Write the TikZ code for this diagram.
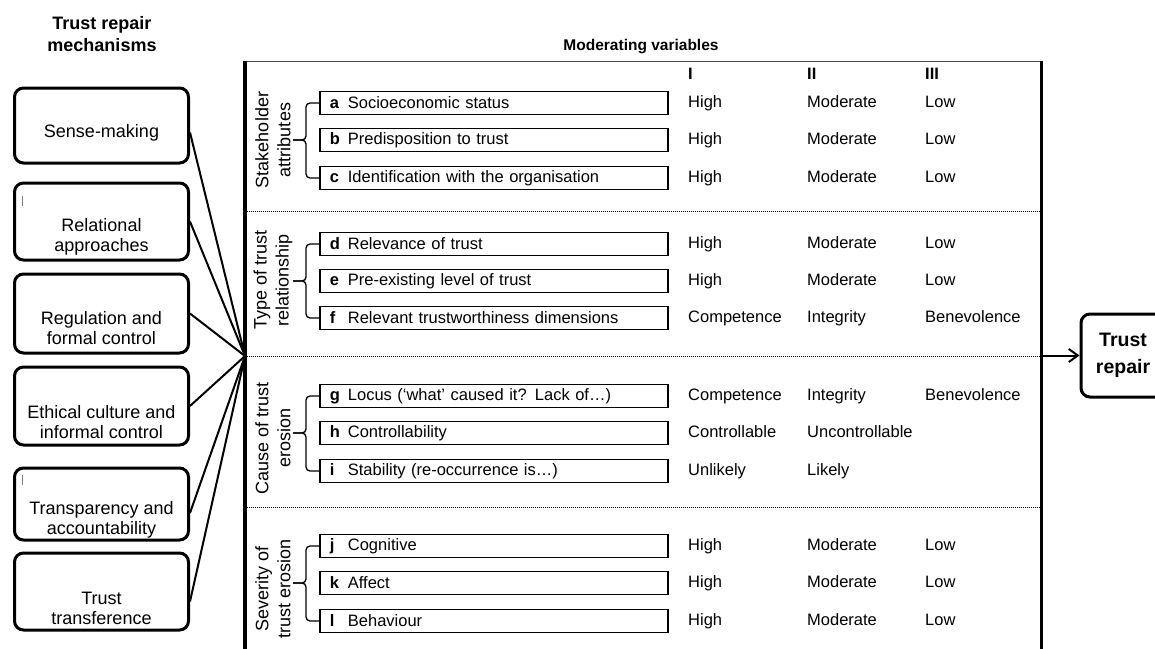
\documentclass[tikz,border=0pt]{standalone}
\usepackage{fontspec}
\setmainfont{Liberation Sans}
\usetikzlibrary{arrows.meta, positioning, calc}

\newcommand{\itemlbl}[1]{\makebox[18pt][l]{\textbf{#1}}}

\begin{document}
\begin{tikzpicture}[
    x=1pt, y=-1pt,
    mech/.style={draw, line width=3pt, rounded corners=9pt, minimum width=174pt, minimum height=75pt},
    mechtxt/.style={align=center, inner sep=0pt, font=\fontsize{18}{20}\selectfont},
    head/.style={align=center, inner sep=0pt, font=\fontsize{18}{22}\selectfont\bfseries},
    item/.style={draw, line width=1.8pt, anchor=west, minimum height=23pt, text width=328pt, inner xsep=10pt, inner ysep=0pt, align=left, font=\fontsize{16.5}{19}\selectfont},
    val/.style={anchor=west, inner sep=0pt, text height=12pt, text depth=3.5pt, font=\fontsize{16.5}{19}\selectfont},
    colhead/.style={val, font=\fontsize{16.5}{19}\selectfont\bfseries},
    grp/.style={rotate=90, align=center, inner sep=0pt, font=\fontsize{18}{22}\selectfont},
    brk/.style={line width=1.3pt, rounded corners=4pt},
    sep/.style={line width=1pt, dash pattern=on 1pt off 1pt},
    link/.style={line width=2pt},
    >={Straight Barb[length=9pt, width=13pt]}
]
    \clip (0,0) rectangle (1155,648);

    \node[head] (mechhead) at (102,34) {Trust repair\\mechanisms};
    \node[head, font=\fontsize{15.5}{18}\selectfont\bfseries] (modhead) at (641,47) {Moderating variables};

    \node[mech, minimum height=75pt] (m1) at (101.5,125.5) {};
    \node[mech, minimum height=77pt] (m2) at (101.5,221.5) {};
    \node[mech, minimum height=79pt] (m3) at (101.5,313.5) {};
    \node[mech, minimum height=78pt] (m4) at (101.5,406) {};
    \node[mech, minimum height=72pt] (m5) at (101.5,504) {};
    \node[mech, minimum height=77pt] (m6) at (101.5,591.5) {};
    \node[mechtxt] (t1) at ([yshift=-7pt]m1.center) {Sense-making};
    \node[mechtxt] (t2) at ([yshift=-15pt]m2.center) {Relational\\approaches};
    \node[mechtxt] (t3) at ([yshift=-15pt]m3.center) {Regulation and\\formal control};
    \node[mechtxt] (t4) at ([yshift=-16pt]m4.center) {Ethical culture and\\informal control};
    \node[mechtxt] (t5) at ([yshift=-16pt]m5.center) {Transparency and\\accountability};
    \node[mechtxt] (t6) at ([yshift=-17pt]m6.center) {Trust\\transference};
    \draw[black!50, line width=0.6pt] ([xshift=9pt, yshift=-14pt]m2.north west) -- ++(0,10);
    \draw[black!50, line width=0.6pt] ([xshift=9pt, yshift=-8pt]m5.north west) -- ++(0,10);

    \node[draw, black!70, line width=1.4pt, anchor=north west, minimum width=795pt, minimum height=620pt] (mod) at (245,61) {};
    \draw[line width=3.5pt] (mod.north west) -- (mod.south west);
    \draw[line width=3.5pt] (mod.north east) -- (mod.south east);
    \coordinate (s1) at (245,211);
    \coordinate (s2) at (245,356);
    \coordinate (s3) at (245,507);
    \draw[sep] (s1) -- (s1 -| mod.east);
    \draw[sep] (s2) -- (s2 -| mod.east);
    \draw[sep] (s3) -- (s3 -| mod.east);
    \coordinate (hub) at (s2);

    \draw[link] ([yshift=-7pt]m1.east) -- (hub);
    \draw[link] (m2.east) -- (hub);
    \draw[link] (m3.east) -- (hub);
    \draw[link] (m4.east) -- (hub);
    \draw[link] ([yshift=-9pt]m5.east) -- (hub);
    \draw[link] ([yshift=-10pt]m6.east) -- (hub);

    \node[colhead] (c1) at (688,75) {I};
    \node[colhead] (c2) at (807,75) {II};
    \node[colhead] (c3) at (925,75) {III};

    \node[item] (ia) at (319,103) {\itemlbl{a}Socioeconomic status};
    \node[item] (ib) at (319,140) {\itemlbl{b}Predisposition to trust};
    \node[item] (ic) at (319,178) {\itemlbl{c}Identification with the organisation};
    \node[item] (id) at (319,244) {\itemlbl{d}Relevance of trust};
    \node[item] (ie) at (319,281) {\itemlbl{e}Pre-existing level of trust};
    \node[item] (if) at (319,318) {\itemlbl{f}Relevant trustworthiness dimensions};
    \node[item] (ig) at (319,396) {\itemlbl{g}Locus (‘what’ caused it? Lack of…)};
    \node[item] (ih) at (319,433) {\itemlbl{h}Controllability};
    \node[item] (ii) at (319,471) {\itemlbl{i}Stability (re-occurrence is…)};
    \node[item] (ij) at (319,546) {\itemlbl{j}Cognitive};
    \node[item] (ik) at (319,583) {\itemlbl{k}Affect};
    \node[item] (il) at (319,621) {\itemlbl{l}Behaviour};

    \draw[brk] (ia.west) -- ++(-13,0) |- ($(ib.west)+(-26,0)$);
    \draw[brk] (ic.west) -- ++(-13,0) |- ($(ib.west)+(-26,0)$);
    \draw[brk] (id.west) -- ++(-13,0) |- ($(ie.west)+(-26,0)$);
    \draw[brk] (if.west) -- ++(-13,0) |- ($(ie.west)+(-26,0)$);
    \draw[brk] (ig.west) -- ++(-13,0) |- ($(ih.west)+(-26,0)$);
    \draw[brk] (ii.west) -- ++(-13,0) |- ($(ih.west)+(-26,0)$);
    \draw[brk] (ij.west) -- ++(-13,0) |- ($(ik.west)+(-26,0)$);
    \draw[brk] (il.west) -- ++(-13,0) |- ($(ik.west)+(-26,0)$);

    \node[grp] (g1) at (273,140) {Stakeholder\\attributes};
    \node[grp] (g2) at (273,280) {Type of trust\\relationship};
    \node[grp] (g3) at (273,438) {Cause of trust\\erosion};
    \node[grp] (g4) at (273,589) {Severity of\\trust erosion};

    \node[val] (va1) at (c1.west |- ia) {High};
    \node[val] (va2) at (c2.west |- ia) {Moderate};
    \node[val] (va3) at (c3.west |- ia) {Low};
    \node[val] (vb1) at (c1.west |- ib) {High};
    \node[val] (vb2) at (c2.west |- ib) {Moderate};
    \node[val] (vb3) at (c3.west |- ib) {Low};
    \node[val] (vc1) at (c1.west |- ic) {High};
    \node[val] (vc2) at (c2.west |- ic) {Moderate};
    \node[val] (vc3) at (c3.west |- ic) {Low};
    \node[val] (vd1) at (c1.west |- id) {High};
    \node[val] (vd2) at (c2.west |- id) {Moderate};
    \node[val] (vd3) at (c3.west |- id) {Low};
    \node[val] (ve1) at (c1.west |- ie) {High};
    \node[val] (ve2) at (c2.west |- ie) {Moderate};
    \node[val] (ve3) at (c3.west |- ie) {Low};
    \node[val] (vf1) at (c1.west |- if) {Competence};
    \node[val] (vf2) at (c2.west |- if) {Integrity};
    \node[val] (vf3) at (c3.west |- if) {Benevolence};
    \node[val] (vg1) at (c1.west |- ig) {Competence};
    \node[val] (vg2) at (c2.west |- ig) {Integrity};
    \node[val] (vg3) at (c3.west |- ig) {Benevolence};
    \node[val] (vh1) at (c1.west |- ih) {Controllable};
    \node[val] (vh2) at (c2.west |- ih) {Uncontrollable};
    \node[val] (vi1) at (c1.west |- ii) {Unlikely};
    \node[val] (vi2) at (c2.west |- ii) {Likely};
    \node[val] (vj1) at (c1.west |- ij) {High};
    \node[val] (vj2) at (c2.west |- ij) {Moderate};
    \node[val] (vj3) at (c3.west |- ij) {Low};
    \node[val] (vk1) at (c1.west |- ik) {High};
    \node[val] (vk2) at (c2.west |- ik) {Moderate};
    \node[val] (vk3) at (c3.west |- ik) {Low};
    \node[val] (vl1) at (c1.west |- il) {High};
    \node[val] (vl2) at (c2.west |- il) {Moderate};
    \node[val] (vl3) at (c3.west |- il) {Low};

    \node[mech, minimum width=84pt, minimum height=83pt, align=center, font=\fontsize{19.5}{27}\selectfont\bfseries] (tr) at (1123,355.5) {Trust\\repair};
    \draw[link, ->] (mod.east |- tr.west) -- (tr.west);
\end{tikzpicture}
\end{document}
